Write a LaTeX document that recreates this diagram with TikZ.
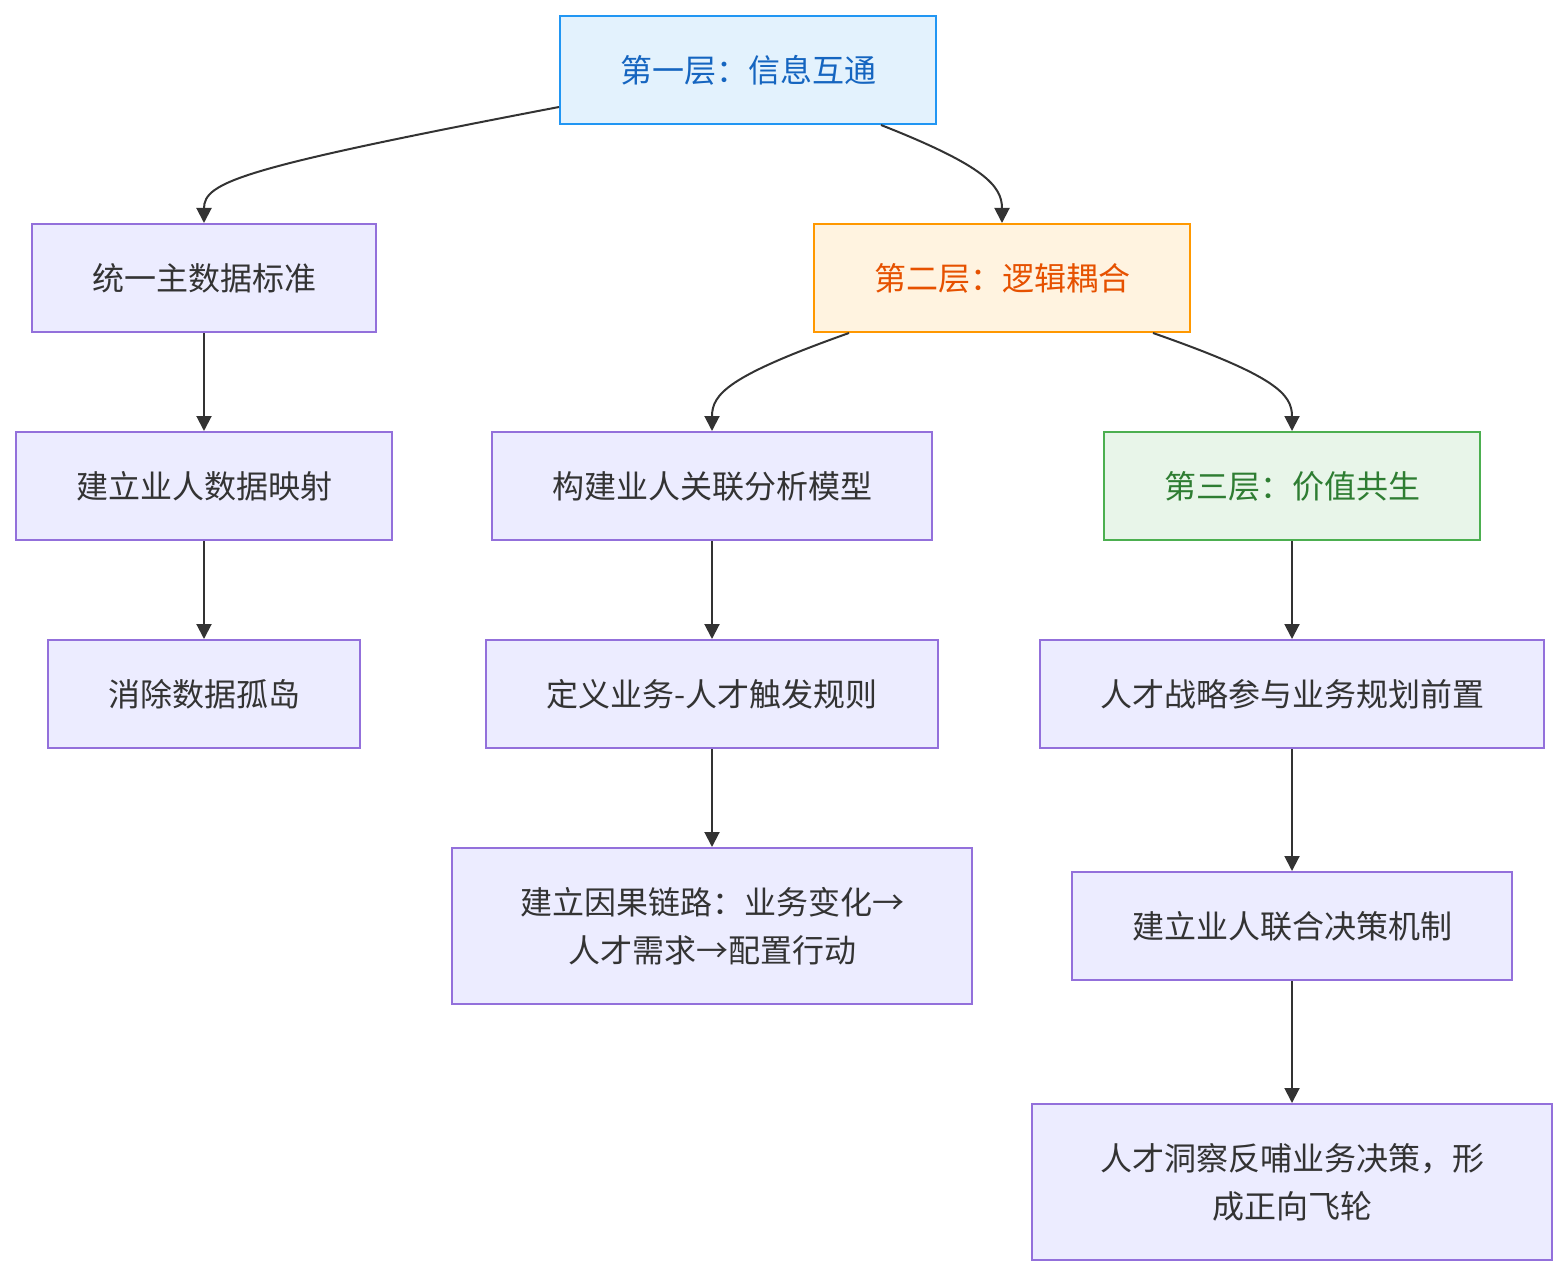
\documentclass[tikz,border=0pt]{standalone}
\usepackage{fontspec}
\setmainfont{Noto Sans CJK SC}
\usetikzlibrary{arrows.meta}
\definecolor{defFill}{HTML}{ECECFF}
\definecolor{defDraw}{HTML}{9370DB}
\definecolor{txt}{HTML}{333333}
\definecolor{bFill}{HTML}{E3F2FD}
\definecolor{bDraw}{HTML}{2196F3}
\definecolor{bTxt}{HTML}{1565C0}
\definecolor{oFill}{HTML}{FFF3E0}
\definecolor{oDraw}{HTML}{FF9800}
\definecolor{oTxt}{HTML}{E65100}
\definecolor{gFill}{HTML}{E8F5E9}
\definecolor{gDraw}{HTML}{4CAF50}
\definecolor{gTxt}{HTML}{2E7D32}
\tikzset{
  box/.style={draw=defDraw, fill=defFill, text=txt, line width=2pt, inner sep=0pt,
    font=\fontsize{32}{48}\selectfont, align=center, minimum height=108pt},
  blue/.style={box, draw=bDraw, fill=bFill, text=bTxt},
  orange/.style={box, draw=oDraw, fill=oFill, text=oTxt},
  green/.style={box, draw=gDraw, fill=gFill, text=gTxt},
  conn/.style={draw=txt, line width=2pt, -{Triangle[length=15pt,width=15pt]}}
}
\begin{document}
\begin{tikzpicture}[x=1pt,y=-1pt]
\useasboundingbox (0,0) rectangle (1568,1276);
\node[blue, minimum width=376pt] (L1) at (748,70) {第一层：信息互通};
\node[box, minimum width=344pt] (A1) at (204,278) {统一主数据标准};
\node[orange, minimum width=376pt] (L2) at (1002,278) {第二层：逻辑耦合};
\node[box, minimum width=376pt] (A2) at (204,486) {建立业人数据映射};
\node[box, minimum width=312pt] (A3) at (204,694) {消除数据孤岛};
\node[box, minimum width=440pt] (B1) at (712,486) {构建业人关联分析模型};
\node[box, minimum width=452pt] (B2) at (712,694) {定义业务-人才触发规则};
\node[box, minimum width=520pt, minimum height=156pt] (B3) at (712,926) {建立因果链路：业务变化→\\人才需求→配置行动};
\node[green, minimum width=376pt] (L3) at (1292,486) {第三层：价值共生};
\node[box, minimum width=504pt] (C1) at (1292,694) {人才战略参与业务规划前置};
\node[box, minimum width=440pt] (C2) at (1292,926) {建立业人联合决策机制};
\node[box, minimum width=520pt, minimum height=156pt] (C3) at (1292,1182) {人才洞察反哺业务决策，形\\成正向飞轮};

\draw[conn] ([yshift=18pt]L1.south west) .. controls (240,168) and (204,182) .. (A1.north);
\draw[conn] ([xshift=-56pt]L1.south east) .. controls (985,166) and (1002,186) .. (L2.north);
\draw[conn] ([xshift=36pt]L2.south west) .. controls (728,376) and (712,394) .. (B1.north);
\draw[conn] ([xshift=-38pt]L2.south east) .. controls (1276,376) and (1292,394) .. (L3.north);
\draw[conn] (A1) -- (A2);
\draw[conn] (A2) -- (A3);
\draw[conn] (B1) -- (B2);
\draw[conn] (B2) -- (B3);
\draw[conn] (L3) -- (C1);
\draw[conn] (C1) -- (C2);
\draw[conn] (C2) -- (C3);
\end{tikzpicture}
\end{document}
